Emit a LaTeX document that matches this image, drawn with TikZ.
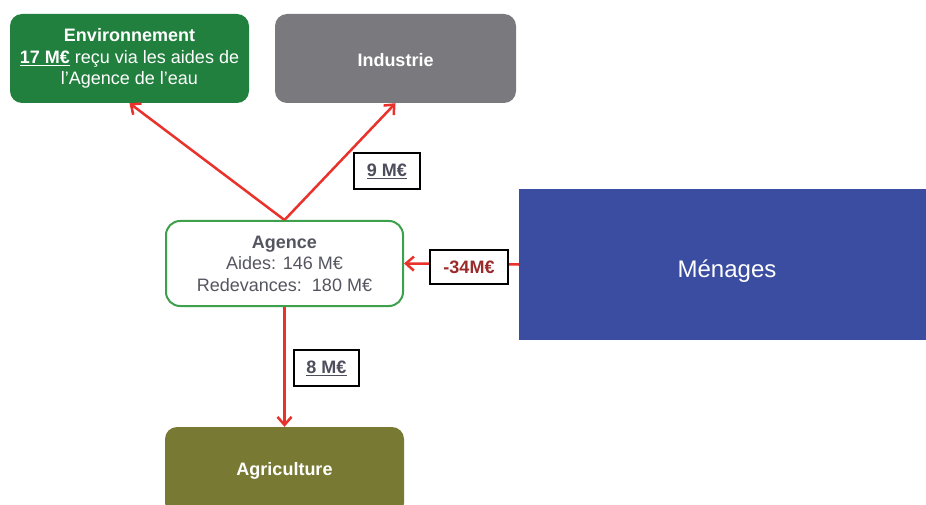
\documentclass[tikz,border=0pt]{standalone}
\usepackage{fontspec}
\setmainfont{Liberation Sans}
\usetikzlibrary{arrows.meta}
\definecolor{envgreen}{HTML}{22803F}
\definecolor{indgray}{HTML}{7A7A7E}
\definecolor{agborder}{HTML}{3CA04C}
\definecolor{menblue}{HTML}{3B4DA0}
\definecolor{agriolive}{HTML}{787A34}
\definecolor{flowred}{HTML}{E8322B}
\definecolor{labgray}{HTML}{4D4D5C}
\definecolor{labred}{HTML}{9B2A2A}
\definecolor{agtext}{HTML}{555560}
\tikzset{
  txt/.style={font=\fontsize{18}{21.5}\selectfont, align=center},
  sector/.style={txt, rounded corners=12pt, text=white, inner sep=0pt},
  flow/.style={draw=flowred, line width=2.5pt, -{Straight Barb[length=8pt,width=14pt,line width=2.5pt]}},
  amount/.style={draw=black, line width=2.3pt, fill=white, inner sep=0pt, font=\fontsize{18}{22}\selectfont\bfseries, text=labgray}
}
\begin{document}
\begin{tikzpicture}[x=1pt,y=-1pt]
\clip (0,0) rectangle (926,505);
\fill[white] (0,0) rectangle (926,505);
\node[sector, fill=envgreen, minimum width=239pt, minimum height=89pt] (env) at (129.5,58.5)
  {\textbf{Environnement}\\\underline{\textbf{17 M€}} reçu via les aides de\\l'Agence de l'eau};
\node[sector, fill=indgray, minimum width=241pt, minimum height=89pt] (ind) at (395.5,58.5)
  {\raisebox{-2pt}[\height][\depth]{\textbf{Industrie}}};
\node[txt, draw=agborder, line width=2pt, fill=white, rounded corners=14pt, text=agtext, minimum width=237pt, minimum height=85pt, inner sep=0pt] (agence) at (284.5,263.5)
  {\textbf{Agence}\\Aides: 146 M€\\Redevances:\ \ 180 M€};
\node[txt, fill=menblue, text=white, minimum width=416pt, minimum height=151pt, inner sep=0pt, font=\fontsize{24}{28}\selectfont] (men) at (727,264.5)
  {\raisebox{-7pt}[\height][\depth]{Ménages}};
\node[sector, fill=agriolive, minimum width=239pt, minimum height=88pt] (agri) at (284.5,471)
  {\textbf{Agriculture}};
\draw[flow] (agence.north) -- (env.south);
\draw[flow] (agence.north) -- (ind.south);
\draw[flow] (agence.south) -- (agri.north);
\draw[flow] (men.west) -- (agence.east);
\node[amount, minimum width=66pt, minimum height=36pt] (l9) at (387,171) {\underline{9 M€}};
\node[amount, minimum width=65pt, minimum height=36pt] (l8) at (326.5,368) {\underline{8 M€}};
\node[amount, text=labred, minimum width=78pt, minimum height=34pt] (l34) at (469,267) {-34M€};
\end{tikzpicture}
\end{document}
